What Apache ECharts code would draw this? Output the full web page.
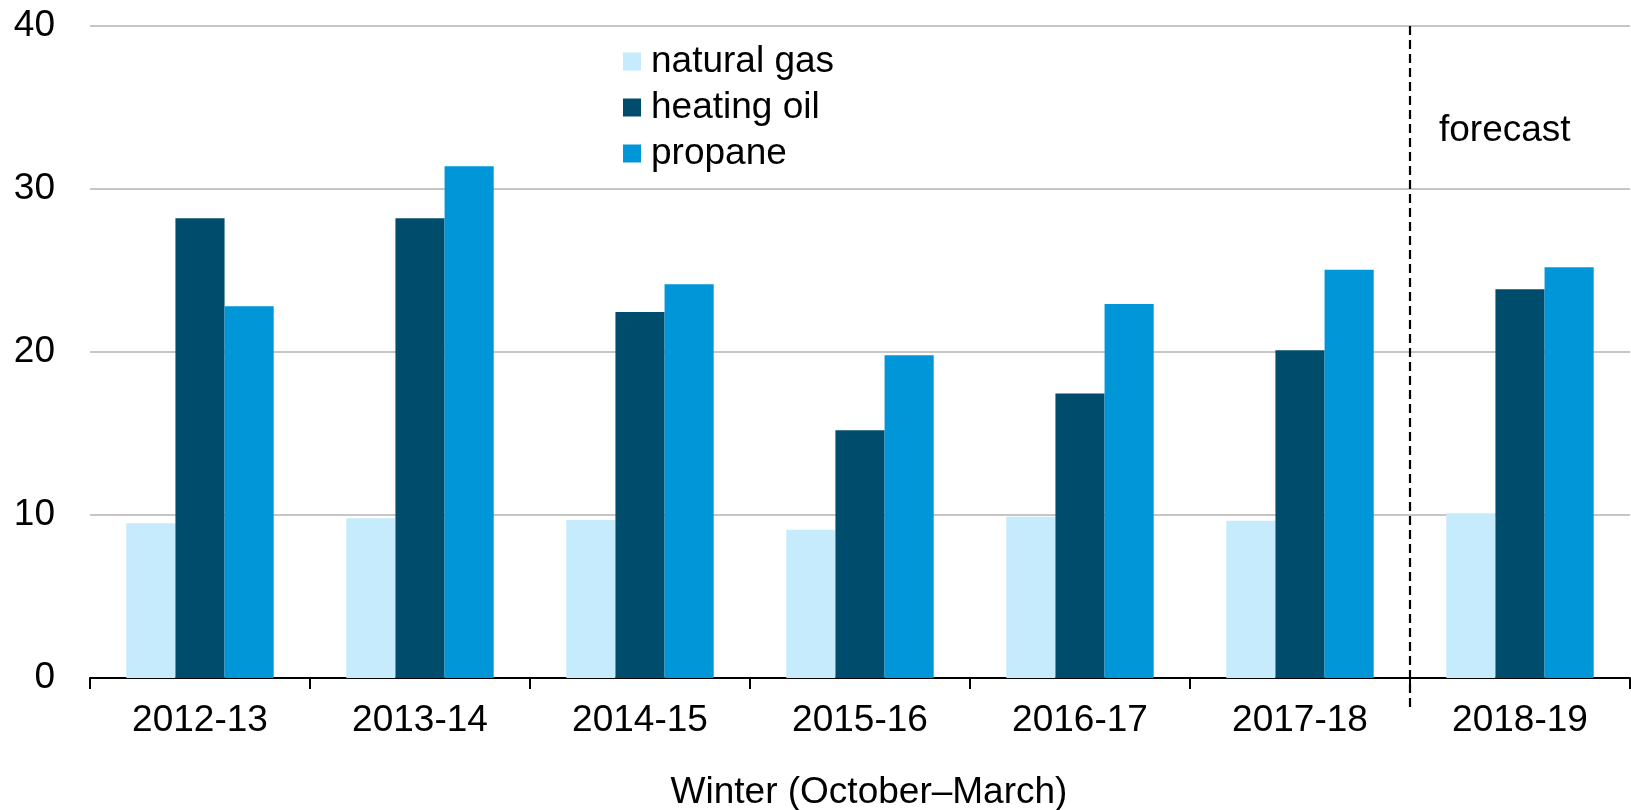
<!DOCTYPE html>
<html>
<head>
<meta charset="utf-8">
<title>Winter heating</title>
<script src="https://cdn.jsdelivr.net/npm/echarts@6/dist/echarts.min.js"></script>
<style>
  html, body { margin: 0; padding: 0; background: #fff; }
</style>
</head>
<body>
<div id="main" style="width: 1631px; height: 810px;"></div>
<script type="text/javascript">
// data
var categories = ['2012-13', '2013-14', '2014-15', '2015-16', '2016-17', '2017-18', '2018-19'];
var naturalGas = [9.5, 9.8, 9.7, 9.1, 9.9, 9.65, 10.1];
var heatingOil = [28.2, 28.2, 22.45, 15.2, 17.45, 20.1, 23.85];
var propane = [22.8, 31.4, 24.15, 19.8, 22.95, 25.05, 25.2];
var forecastFrom = '2018-19';

var font = "'Liberation Sans', Arial, sans-serif";
var myChart = echarts.init(document.getElementById('main'));

var option = {
    animation: false,
    textStyle: { fontFamily: font },
    grid: { left: 90, right: 1, top: 26, bottom: 132, containLabel: false, outerBoundsMode: 'none' },
    legend: {
        orient: 'vertical',
        left: 623,
        top: 43,
        padding: 0,
        icon: 'rect',
        itemWidth: 18,
        itemHeight: 18,
        itemGap: 9,
        textStyle: { fontFamily: font, fontSize: 37, color: '#000', padding: [0, 0, 0, 5] },
        data: ['natural gas', 'heating oil', 'propane']
    },
    xAxis: {
        type: 'category',
        data: categories,
        name: 'Winter (October\u2013March)',
        nameLocation: 'middle',
        nameGap: 96,
        nameTextStyle: { fontFamily: font, fontSize: 37, color: '#000', padding: [0, 0, 0, 18] },
        axisLine: { lineStyle: { color: '#000', width: 2 } },
        axisTick: { show: true, length: 11, lineStyle: { color: '#000', width: 2 } },
        axisLabel: { fontFamily: font, fontSize: 37, color: '#000', margin: 24 }
    },
    yAxis: {
        type: 'value',
        min: 0,
        max: 40,
        interval: 10,
        axisLine: { show: false },
        axisTick: { show: false },
        axisLabel: { fontFamily: font, fontSize: 37, color: '#000', margin: 35 },
        splitLine: { lineStyle: { color: '#b3b3b3', width: 1.5 } }
    },
    series: [
        {
            name: 'natural gas',
            type: 'bar',
            barGap: '0%',
            barCategoryGap: '33%',
            itemStyle: { color: '#c5ebfc' },
            data: naturalGas
        },
        {
            name: 'heating oil',
            type: 'bar',
            barGap: '0%',
            barCategoryGap: '33%',
            itemStyle: { color: '#004c6c' },
            data: heatingOil
        },
        {
            name: 'propane',
            type: 'bar',
            barGap: '0%',
            barCategoryGap: '33%',
            itemStyle: { color: '#0096d8' },
            data: propane
        }
    ]
};

myChart.setOption(option);

// dashed divider between actuals and forecast
var idx = categories.indexOf(forecastFrom);
var xa = myChart.convertToPixel({ xAxisIndex: 0 }, categories[idx - 1]);
var xb = myChart.convertToPixel({ xAxisIndex: 0 }, categories[idx]);
var xDiv = (xa + xb) / 2;
var yTop = myChart.convertToPixel({ yAxisIndex: 0 }, 40);
var yBase = myChart.convertToPixel({ yAxisIndex: 0 }, 0);

myChart.setOption({
    graphic: [
        {
            type: 'line',
            shape: { x1: xDiv, y1: yTop, x2: xDiv, y2: yBase + 33 },
            style: { stroke: '#000', lineWidth: 2.2, lineDash: [9, 5] },
            z: 10
        },
        {
            type: 'text',
            x: xDiv + 29,
            y: myChart.convertToPixel({ yAxisIndex: 0 }, 33.6),
            style: { text: 'forecast', font: '37px ' + font, fill: '#000', textVerticalAlign: 'middle' },
            z: 10
        }
    ]
});
</script>
</body>
</html>
